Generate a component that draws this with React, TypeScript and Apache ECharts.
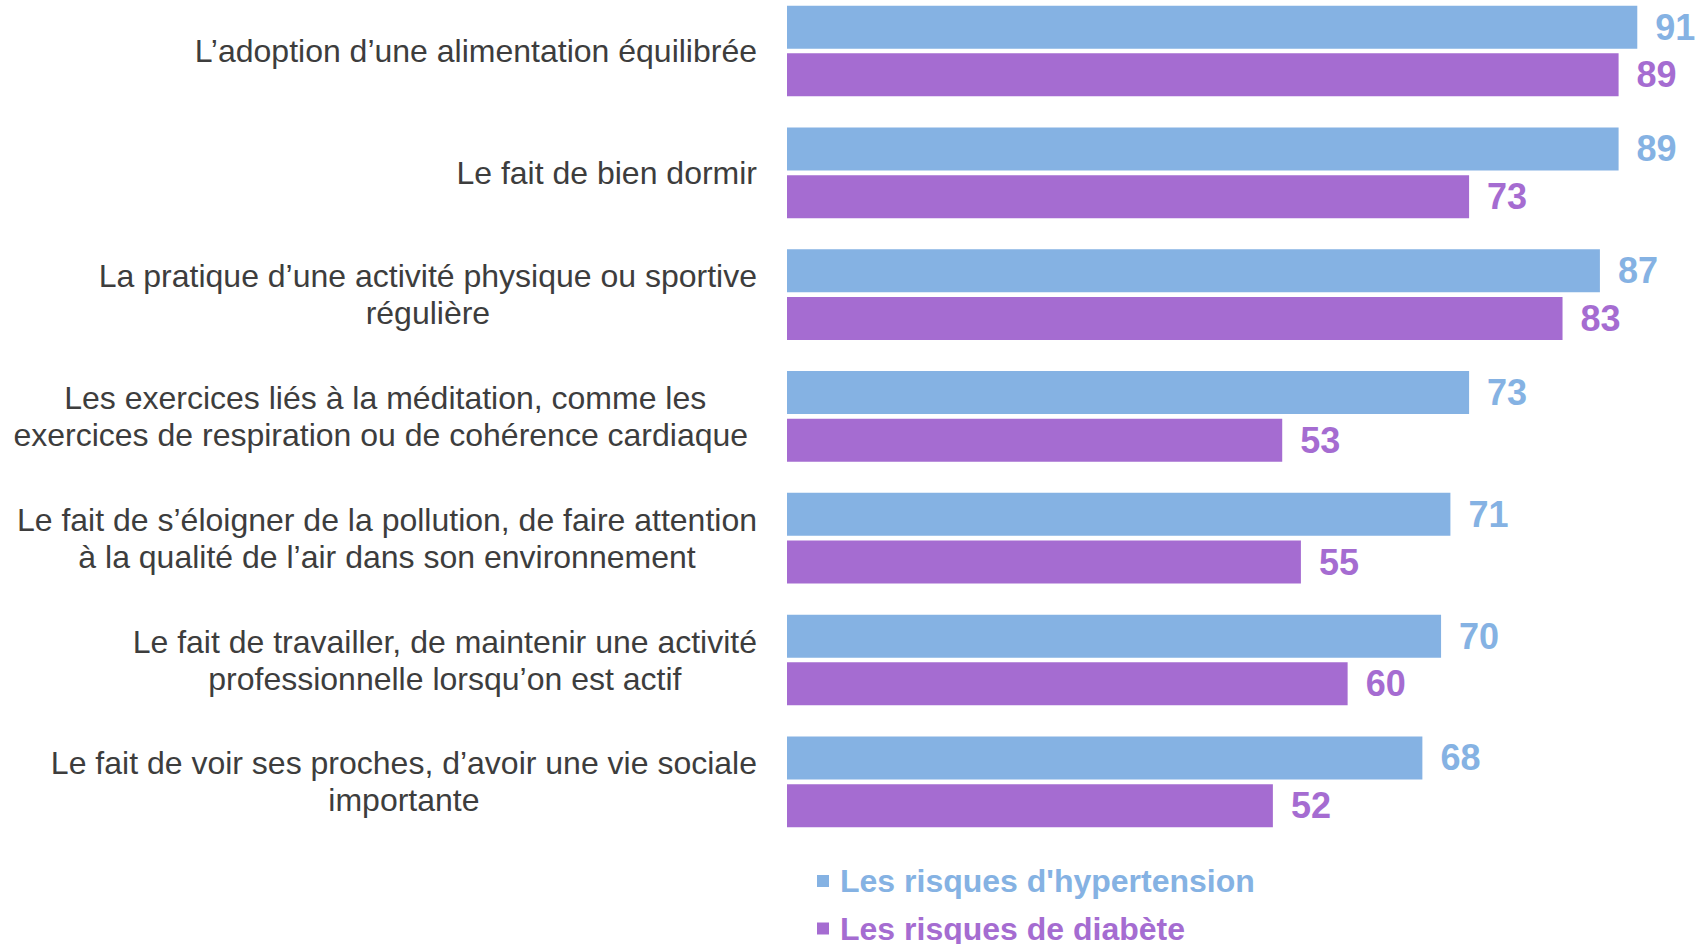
import React, { useEffect, useRef } from "react";
import * as echarts from "echarts";

const categories: string[][] = [
  ["L\u2019adoption d\u2019une alimentation équilibrée"],
  ["Le fait de bien dormir"],
  ["La pratique d\u2019une activité physique ou sportive", "régulière"],
  ["Les exercices liés à la méditation, comme les", "exercices de respiration ou de cohérence cardiaque "],
  ["Le fait de s\u2019éloigner de la pollution, de faire attention", "à la qualité de l\u2019air dans son environnement"],
  ["Le fait de travailler, de maintenir une activité", "professionnelle lorsqu\u2019on est actif"],
  ["Le fait de voir ses proches, d\u2019avoir une vie sociale", "importante"],
];

const seriesNames = ["Les risques d'hypertension", "Les risques de diabète"];
const hypertension = [91, 89, 87, 73, 71, 70, 68];
const diabete = [89, 73, 83, 53, 55, 60, 52];

const BLUE = "#85B2E3";
const PURPLE = "#A56CD1";
const FONT = "'Liberation Sans', Arial, Helvetica, sans-serif";
const SHIFT = 10;

export default function App() {
  const ref = useRef<HTMLDivElement>(null);
  useEffect(() => {
    if (!ref.current) return;
    const chart = echarts.init(ref.current, null, { renderer: "svg" });
    const catKeys = categories.map((_, i) => String(i));
    chart.setOption({
      animation: false,
      backgroundColor: "#ffffff",
      grid: { left: 787, right: 12, top: 0.1, height: 852.6, containLabel: false },
      xAxis: {
        type: "value",
        min: 0,
        max: 96,
        show: false,
        splitLine: { show: false },
      },
      yAxis: {
        type: "category",
        inverse: true,
        data: catKeys,
        axisLine: { show: false },
        axisTick: { show: false },
        axisLabel: {
          margin: 30,
          formatter: (v: string) =>
            categories[Number(v)].map((l) => `{c|${l}}`).join("\n"),
          rich: {
            c: {
              align: "center",
              fontSize: 32,
              lineHeight: 37,
              color: "#3d3d3d",
              fontFamily: FONT,
            },
          },
        },
      },
      legend: {
        orient: "vertical",
        left: 817,
        top: 862 + SHIFT,
        height: 140,
        padding: 0,
        itemWidth: 12,
        itemHeight: 12,
        itemGap: 9.5,
        icon: "rect",
        textStyle: {
          fontSize: 32,
          fontWeight: "bold",
          fontFamily: FONT,
          lineHeight: 38,
          padding: [0, 0, 0, 6],
        },
        data: [
          { name: seriesNames[0], textStyle: { color: BLUE } },
          { name: seriesNames[1], textStyle: { color: PURPLE } },
        ],
      },
      series: [
        {
          name: seriesNames[0],
          type: "bar",
          data: hypertension,
          barWidth: 43,
          barGap: "11%",
          itemStyle: { color: BLUE },
          label: {
            show: true,
            position: "right",
            distance: 18,
            color: BLUE,
            fontSize: 36,
            fontWeight: "bold",
            fontFamily: FONT,
          },
        },
        {
          name: seriesNames[1],
          type: "bar",
          data: diabete,
          barWidth: 43,
          barGap: "11%",
          itemStyle: { color: PURPLE },
          label: {
            show: true,
            position: "right",
            distance: 18,
            color: PURPLE,
            fontSize: 36,
            fontWeight: "bold",
            fontFamily: FONT,
          },
        },
      ],
    });
    return () => chart.dispose();
  }, []);
  return (
    <div
      ref={ref}
      style={{ position: "fixed", left: 0, top: -SHIFT, width: 1696, height: 944 + SHIFT }}
    />
  );
}
